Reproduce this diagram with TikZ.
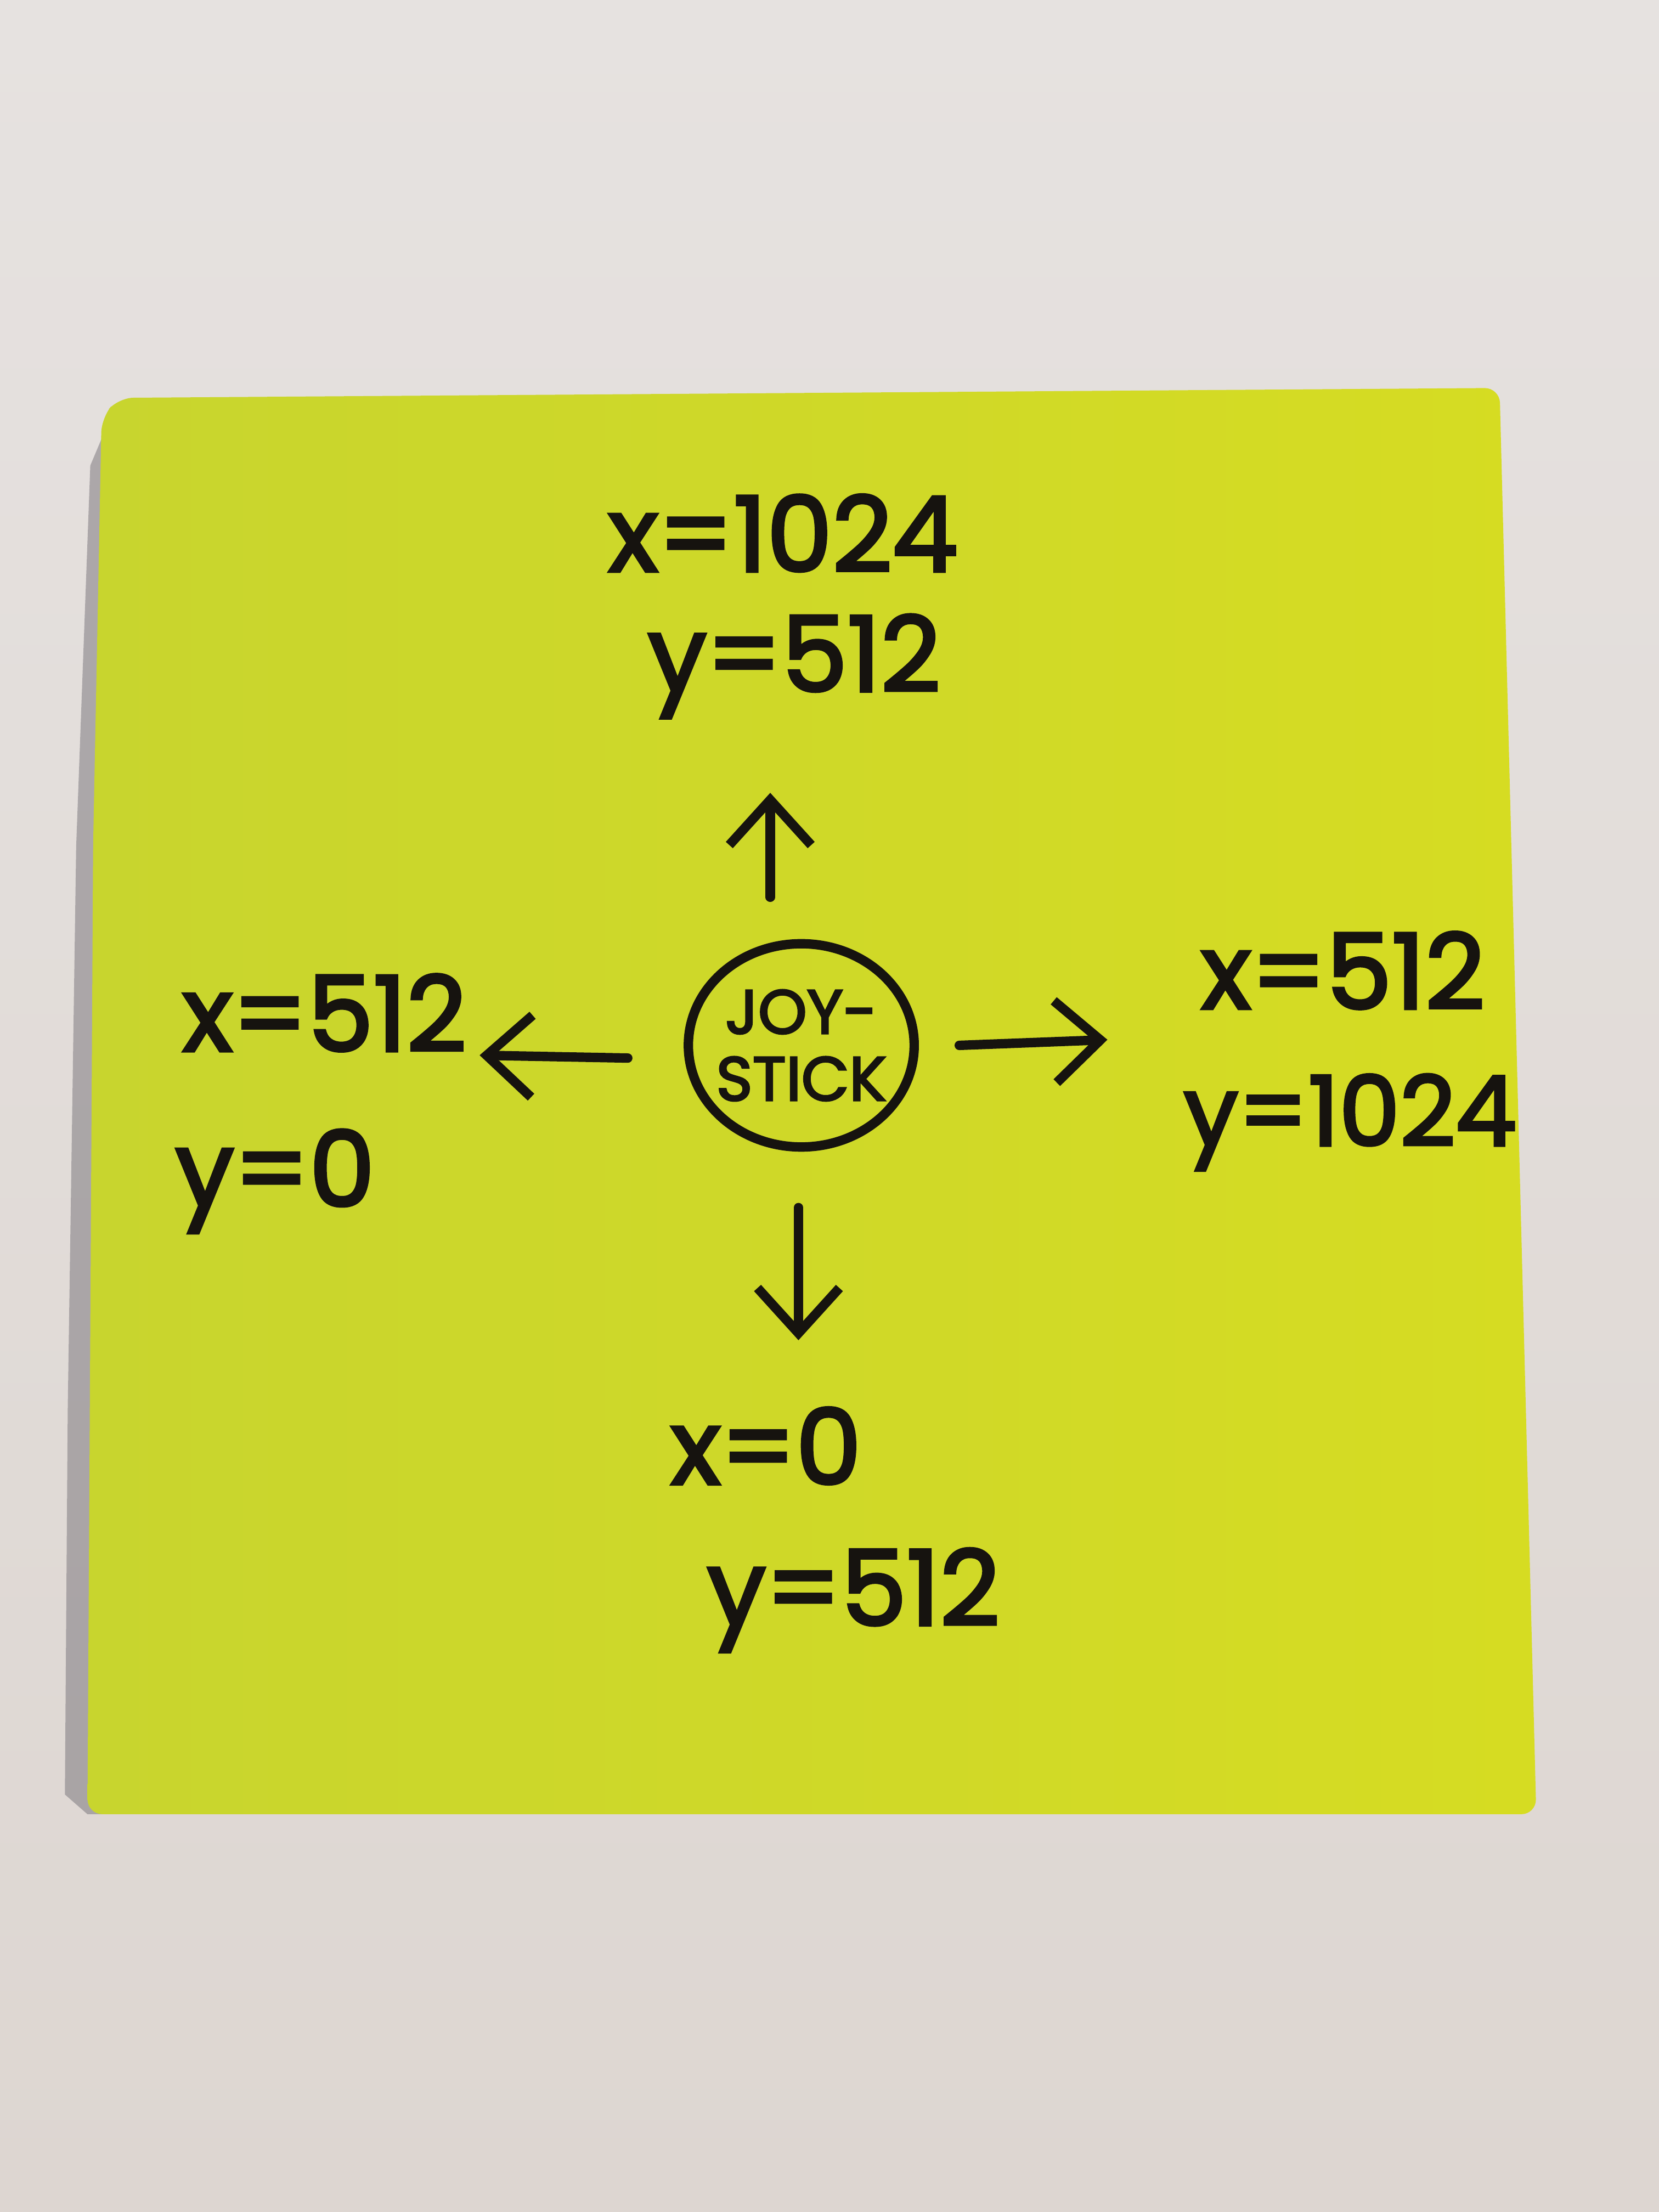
\documentclass[tikz,border=0pt]{standalone}
\usepackage{fontspec}
\setmainfont{Poppins}
\newfontfamily\hand[FakeBold=3]{Poppins}
\usetikzlibrary{arrows.meta,shapes.geometric}
\definecolor{bg}{HTML}{DDD6D1}
\definecolor{bgtop}{HTML}{E6E2E0}
\definecolor{noteA}{HTML}{C8D52E}
\definecolor{noteB}{HTML}{D6DC22}
\definecolor{shadowc}{HTML}{7E7A80}
\definecolor{ink}{HTML}{16130F}
\begin{document}
\begin{tikzpicture}[x=0.01cm,y=-0.01cm,
  lbl/.style={text=ink, inner sep=0pt, anchor=base, font=\hand\fontsize{21}{25}\selectfont},
  arr/.style={draw=ink, line width=1.9pt, line cap=round, line join=round,
    -{Straight Barb[length=0.32cm,width=0.58cm,line width=1.9pt]}},
  jsnode/.style={ellipse, draw=ink, line width=1.9pt, minimum width=1.6cm, minimum height=1.44cm,
    inner sep=-10pt, align=center, text=ink, font=\hand\fontsize{12.5}{13.5}\selectfont}]
\useasboundingbox (0,0) rectangle (1176,1568);
\shade[top color=bgtop, bottom color=bg] (0,0) rectangle (1176,1568);
% shadow of the note on its left side
\fill[shadowc, opacity=0.55] (80,292) -- (64,330) -- (54,600) -- (48,1000) -- (46,1272) -- (62,1286) -- (75,1286) -- (75,300) -- cycle;
% the sticky note
\shade[left color=noteA, right color=noteB, rounded corners=3pt]
  (84,282) -- (1063,275) -- (1089,1286) -- (62,1286) -- (66,600) -- (72,296) -- cycle;
% labels
\node[lbl] (tx) at (555,405) {x=1024};
\node[lbl] (ty) at (563,490) {y=512};
\node[lbl] (lx) at (230,745) {x=512};
\node[lbl] (ly) at (195,855) {y=0};
\node[lbl] (rx) at (952,715) {x=512};
\node[lbl, font=\hand\fontsize{19.5}{23}\selectfont] (ry) at (957,812) {y=1024};
\node[lbl] (bx) at (543,1052) {x=0};
\node[lbl] (by) at (605,1152) {y=512};
% joystick
\node[jsnode] (js) at (568,741) {JOY-\\STICK};
% arrow ends
\coordinate (u0) at (546,636);
\coordinate (u1) at (546,562);
\coordinate (l0) at (445,750);
\coordinate (l1) at (340,748);
\coordinate (r0) at (680,741);
\coordinate (r1) at (785,737);
\coordinate (d0) at (566,856);
\coordinate (d1) at (566,950);
\draw[arr] (u0) -- (u1);
\draw[arr] (l0) -- (l1);
\draw[arr] (r0) -- (r1);
\draw[arr] (d0) -- (d1);
\end{tikzpicture}
\end{document}
